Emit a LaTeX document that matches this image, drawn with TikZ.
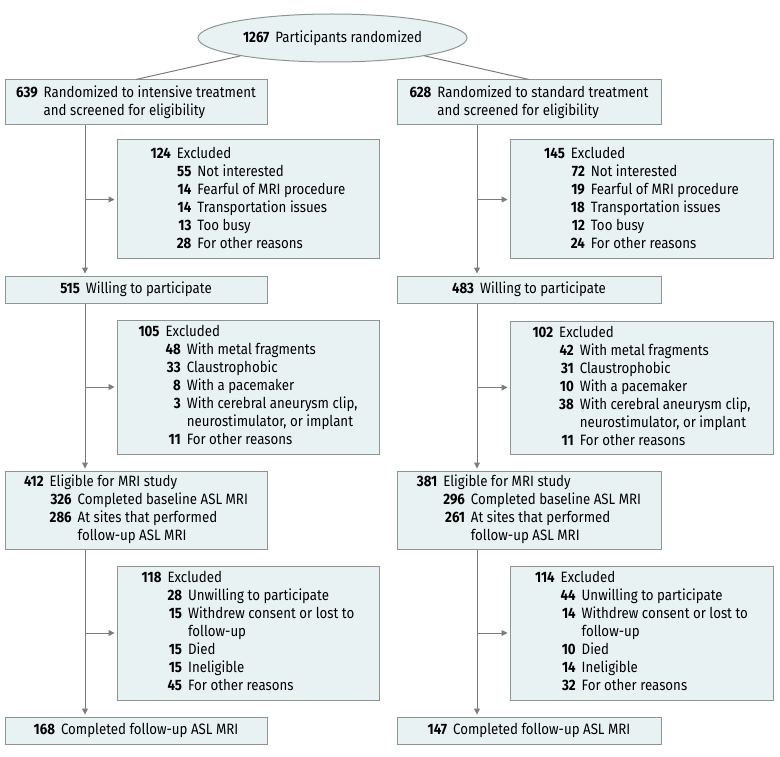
\documentclass[tikz,border=0pt]{standalone}
\usepackage{fontspec}
\setmainfont{Fira Sans}[FakeStretch=0.885]
\usetikzlibrary{arrows.meta,shapes.geometric}
\definecolor{boxfill}{HTML}{E9F2F3}
\definecolor{boxdraw}{HTML}{8F9595}
\definecolor{linec}{HTML}{7C7C7C}
\newcommand\nb[1]{\textbf{#1}}
\newenvironment{twocol}{\begin{tabular}{@{}r@{\hspace{6pt}}l@{}}}{\end{tabular}}
\newenvironment{threecol}{\begin{tabular}{@{}r@{\hspace{6pt}}r@{\hspace{6pt}}l@{}}}{\end{tabular}}
\newcommand\hd[2]{\nb{#1} & \multicolumn{2}{@{}l@{}}{#2}\\}
\begin{document}
\begin{tikzpicture}[x=1pt,y=-1pt,
  flowbox/.style={draw=boxdraw, fill=boxfill, line width=1pt, inner sep=0pt,
    font=\fontsize{15}{18}\selectfont},
  conn/.style={draw=linec, line width=1pt},
  arr/.style={conn, -{Triangle[length=6pt,width=6pt]}, shorten >=2pt}]
\useasboundingbox (0,0) rectangle (780,757);

\node[flowbox, ellipse, minimum width=269pt, minimum height=48pt] (e) at (332.5,38)
  {\nb{1267}\hspace{6pt}Participants randomized};

% left column
\node[flowbox, minimum width=262pt, minimum height=45pt] (L1) at (136,102.5)
  {\begin{twocol}\nb{639} & Randomized to intensive treatment\\ & and screened for eligibility\end{twocol}};
\node[flowbox, minimum width=262pt, minimum height=119pt] (LX1) at (248,199.5)
  {\begin{threecol}\hd{124}{Excluded}
   & \nb{55} & Not interested\\
   & \nb{14} & Fearful of MRI procedure\\
   & \nb{14} & Transportation issues\\
   & \nb{13} & Too busy\\
   & \nb{28} & For other reasons\end{threecol}};
\node[flowbox, minimum width=262pt, minimum height=27pt] (L2) at (136,289.5)
  {\nb{515}\hspace{6pt}Willing to participate};
\node[flowbox, minimum width=262pt, minimum height=134pt] (LX2) at (248,387)
  {\begin{threecol}\hd{105}{Excluded}
   & \nb{48} & With metal fragments\\
   & \nb{33} & Claustrophobic\\
   & \nb{8} & With a pacemaker\\
   & \nb{3} & With cerebral aneurysm clip,\\
   & & neurostimulator, or implant\\
   & \nb{11} & For other reasons\end{threecol}};
\node[flowbox, minimum width=262pt, minimum height=78pt] (L3) at (136,510)
  {\begin{threecol}\hd{412}{Eligible for MRI study}
   & \nb{326} & Completed baseline ASL MRI\\
   & \nb{286} & At sites that performed\\
   & & follow-up ASL MRI\end{threecol}};
\node[flowbox, minimum width=262pt, minimum height=134pt] (LX3) at (248,633)
  {\begin{threecol}\hd{118}{Excluded}
   & \nb{28} & Unwilling to participate\\
   & \nb{15} & Withdrew consent or lost to\\
   & & follow-up\\
   & \nb{15} & Died\\
   & \nb{15} & Ineligible\\
   & \nb{45} & For other reasons\end{threecol}};
\node[flowbox, minimum width=262pt, minimum height=27pt] (L4) at (136,730.5)
  {\nb{168}\hspace{6pt}Completed follow-up ASL MRI};

% right column
\node[flowbox, minimum width=264pt, minimum height=45pt] (R1) at (529,102.5)
  {\begin{twocol}\nb{628} & Randomized to standard treatment\\ & and screened for eligibility\end{twocol}};
\node[flowbox, minimum width=263pt, minimum height=119pt] (RX1) at (641.5,199.5)
  {\begin{threecol}\hd{145}{Excluded}
   & \nb{72} & Not interested\\
   & \nb{19} & Fearful of MRI procedure\\
   & \nb{18} & Transportation issues\\
   & \nb{12} & Too busy\\
   & \nb{24} & For other reasons\end{threecol}};
\node[flowbox, minimum width=264pt, minimum height=27pt] (R2) at (529,289.5)
  {\nb{483}\hspace{6pt}Willing to participate};
\node[flowbox, minimum width=263pt, minimum height=133pt] (RX2) at (641.5,387.5)
  {\begin{threecol}\hd{102}{Excluded}
   & \nb{42} & With metal fragments\\
   & \nb{31} & Claustrophobic\\
   & \nb{10} & With a pacemaker\\
   & \nb{38} & With cerebral aneurysm clip,\\
   & & neurostimulator, or implant\\
   & \nb{11} & For other reasons\end{threecol}};
\node[flowbox, minimum width=264pt, minimum height=78pt] (R3) at (529,510)
  {\begin{threecol}\hd{381}{Eligible for MRI study}
   & \nb{296} & Completed baseline ASL MRI\\
   & \nb{261} & At sites that performed\\
   & & follow-up ASL MRI\end{threecol}};
\node[flowbox, minimum width=263pt, minimum height=134pt] (RX3) at (641.5,633)
  {\begin{threecol}\hd{114}{Excluded}
   & \nb{44} & Unwilling to participate\\
   & \nb{14} & Withdrew consent or lost to\\
   & & follow-up\\
   & \nb{10} & Died\\
   & \nb{14} & Ineligible\\
   & \nb{32} & For other reasons\end{threecol}};
\node[flowbox, minimum width=264pt, minimum height=27pt] (R4) at (529,730.5)
  {\nb{147}\hspace{6pt}Completed follow-up ASL MRI};

% connectors
\coordinate (vl) at (85,0);
\coordinate (vr) at (477,0);
\draw[conn] (e.191) -- (L1.north);
\draw[conn] (e.349) -- (R1.north);
\foreach \a/\b/\x in {L1/L2/LX1, L2/L3/LX2, L3/L4/LX3}{
  \draw[arr] (\a.south -| vl) -- (\b.north -| vl);
  \draw[arr] (\x.west -| vl) -- (\x.west);
}
\foreach \a/\b/\x in {R1/R2/RX1, R2/R3/RX2, R3/R4/RX3}{
  \draw[arr] (\a.south -| vr) -- (\b.north -| vr);
  \draw[arr] (\x.west -| vr) -- (\x.west);
}
\end{tikzpicture}
\end{document}
